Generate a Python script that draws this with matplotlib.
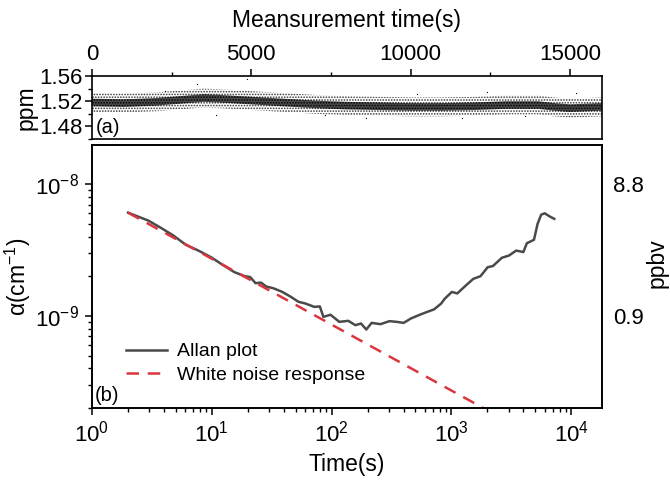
import matplotlib
matplotlib.use('Agg')
import matplotlib.pyplot as plt
from matplotlib.ticker import LogLocator, NullLocator, NullFormatter, MultipleLocator, FixedLocator
import numpy as np

plt.rcParams['font.family'] = ['Liberation Sans', 'DejaVu Sans']
plt.rcParams['mathtext.fontset'] = 'custom'
plt.rcParams['mathtext.rm'] = 'Liberation Sans'
plt.rcParams['mathtext.it'] = 'Liberation Sans:italic'
plt.rcParams['mathtext.default'] = 'regular'
plt.rcParams['font.size'] = 16
plt.rcParams['hatch.linewidth'] = 0.8

# panel (a): concentration time series, centre of the noisy band and its spread
meas_time = [0, 1000, 2000, 2500, 3000, 3500, 4000, 5000, 6000, 7000, 8000,
             9000, 10000, 11000, 12000, 13000, 14000, 14500, 15000, 16000]
ppm_centre = [1.518, 1.517, 1.519, 1.521, 1.523, 1.525, 1.524, 1.521, 1.518, 1.515, 1.513,
              1.512, 1.511, 1.511, 1.512, 1.514, 1.514, 1.511, 1.509, 1.511]
spread_outer = 0.015
spread_inner = 0.006
# a few isolated points outside the band
outlier_t = [2300, 3300, 3900, 4850, 7300, 8600, 10200, 11600, 12400, 13600, 15200]
outlier_ppm = [1.536, 1.547, 1.498, 1.555, 1.498, 1.494, 1.532, 1.493, 1.534, 1.497, 1.533]

# panel (b): Allan deviation
tau = [2.00, 2.96, 3.89, 4.78, 6.08, 7.73, 9.83, 12.5, 15.4, 18.9, 20.9, 23.2, 25.7,
       28.5, 32.7, 38.8, 46.0, 52.8, 60.6, 71.9, 79.8, 85.4, 98.0, 116, 138, 158, 176,
       195, 216, 256, 304, 349, 400, 459, 545, 625, 717, 822, 881, 1010, 1120, 1330,
       1525, 1750, 2010, 2225, 2640, 3030, 3475, 3990, 4270, 4895, 5245, 5620, 6015,
       6670, 7230]
allan = [6.07e-9, 5.28e-9, 4.57e-9, 4.07e-9, 3.46e-9, 3.13e-9, 2.79e-9, 2.42e-9, 2.15e-9,
         2.00e-9, 1.97e-9, 1.77e-9, 1.79e-9, 1.67e-9, 1.62e-9, 1.52e-9, 1.39e-9, 1.28e-9,
         1.24e-9, 1.17e-9, 1.18e-9, 9.83e-10, 1.02e-9, 9.01e-10, 9.17e-10, 8.50e-10,
         8.75e-10, 7.88e-10, 8.85e-10, 8.65e-10, 9.12e-10, 9.01e-10, 8.85e-10, 9.55e-10,
         1.02e-9, 1.07e-9, 1.12e-9, 1.24e-9, 1.35e-9, 1.52e-9, 1.48e-9, 1.71e-9, 1.91e-9,
         2.00e-9, 2.34e-9, 2.39e-9, 2.76e-9, 2.87e-9, 3.13e-9, 3.05e-9, 3.56e-9, 3.78e-9,
         4.99e-9, 5.86e-9, 6.00e-9, 5.66e-9, 5.45e-9]
white_tau = [2, 2000]
white_sigma = [6.07e-9, 1.92e-10]

fig = plt.figure(figsize=(6.7, 4.83), dpi=100)
ax_a = fig.add_axes([0.1373, 0.7122, 0.7608, 0.1304])
ax_b = fig.add_axes([0.1373, 0.1553, 0.7608, 0.5445])

# --- panel (a)
lo_o = np.array(ppm_centre) - spread_outer
hi_o = np.array(ppm_centre) + spread_outer
lo_i = np.array(ppm_centre) - spread_inner
hi_i = np.array(ppm_centre) + spread_inner
ax_a.fill_between(meas_time, lo_o, hi_o, facecolor='none', edgecolor='#333333',
                  hatch='......', linewidth=0)
ax_a.fill_between(meas_time, lo_i, hi_i, facecolor='#4a4a4a', edgecolor='#000000',
                  hatch='......', linewidth=0)
ax_a.scatter(outlier_t, outlier_ppm, s=0.8, color='black', linewidths=0)
ax_a.set_xlim(0, 16000)
ax_a.set_ylim(1.46, 1.56)
ax_a.set_yticks([1.48, 1.52, 1.56])
ax_a.yaxis.set_minor_locator(MultipleLocator(0.02))
ax_a.set_xticks([0, 5000, 10000, 15000])
ax_a.xaxis.set_minor_locator(MultipleLocator(2500))
ax_a.xaxis.tick_top()
ax_a.xaxis.set_label_position('top')
ax_a.tick_params(axis='x', which='both', direction='out', top=True, bottom=False)
ax_a.tick_params(axis='y', which='both', direction='out', right=False)
ax_a.tick_params(which='major', length=5, width=1.1, pad=2)
ax_a.tick_params(which='minor', length=3, width=1.0)
ax_a.tick_params(axis='x', pad=3)
ax_a.set_xlabel('Meansurement time(s)', fontsize=16.5, labelpad=12)
ax_a.set_ylabel('ppm', fontsize=16.5, labelpad=1)
ax_a.text(0.008, 0.1, '(a)', transform=ax_a.transAxes, fontsize=14.5)

# --- panel (b)
ax_b.plot(tau, allan, color='#4a4a4a', lw=1.8, label='Allan plot')
ax_b.plot(white_tau, white_sigma, color='#d9363e', lw=1.8, ls=(0, (5, 3.5)),
          label='White noise response')
ax_b.set_xscale('log')
ax_b.set_yscale('log')
ax_b.set_xlim(1, 18000)
ax_b.set_ylim(2e-10, 1.98e-8)
ax_b.xaxis.set_major_locator(LogLocator(base=10, numticks=10))
ax_b.xaxis.set_minor_locator(LogLocator(base=10, subs=np.arange(2, 10), numticks=10))
ax_b.yaxis.set_major_locator(LogLocator(base=10, numticks=10))
ax_b.yaxis.set_minor_locator(LogLocator(base=10, subs=np.arange(2, 10), numticks=10))
ax_b.tick_params(which='both', direction='out', top=False, right=False)
ax_b.tick_params(which='major', length=5, width=1.1, pad=4)
ax_b.tick_params(which='minor', length=3, width=1.0)
ax_b.set_xlabel('Time(s)', fontsize=16.5, labelpad=5)
ax_b.set_ylabel('α(cm$^{-1}$)', fontsize=16.5, labelpad=2)
ax_b.text(0.006, 0.025, '(b)', transform=ax_b.transAxes, fontsize=14.5)
ax_b.legend(loc='lower left', bbox_to_anchor=(0.04, 0.04), frameon=False,
            handlelength=2.1, handletextpad=0.5, labelspacing=0.3, fontsize=14,
            borderpad=0.2)

ax_r = ax_b.twinx()
ax_r.set_yscale('log')
ax_r.set_ylim(ax_b.get_ylim())
ax_r.yaxis.set_major_locator(FixedLocator([1e-8, 1e-9]))
ax_r.yaxis.set_minor_locator(NullLocator())
ax_r.yaxis.set_minor_formatter(NullFormatter())
ax_r.set_yticklabels(['8.8', '0.9'])
ax_r.tick_params(axis='y', length=0, pad=8)
fig.text(657 / 670, 1 - 263 / 483, 'ppbv', fontsize=16.5, rotation=90,
         ha='center', va='center')

for ax in (ax_a, ax_b, ax_r):
    for sp in ax.spines.values():
        sp.set_linewidth(1.2)

fig.savefig('out.png', dpi=100)
